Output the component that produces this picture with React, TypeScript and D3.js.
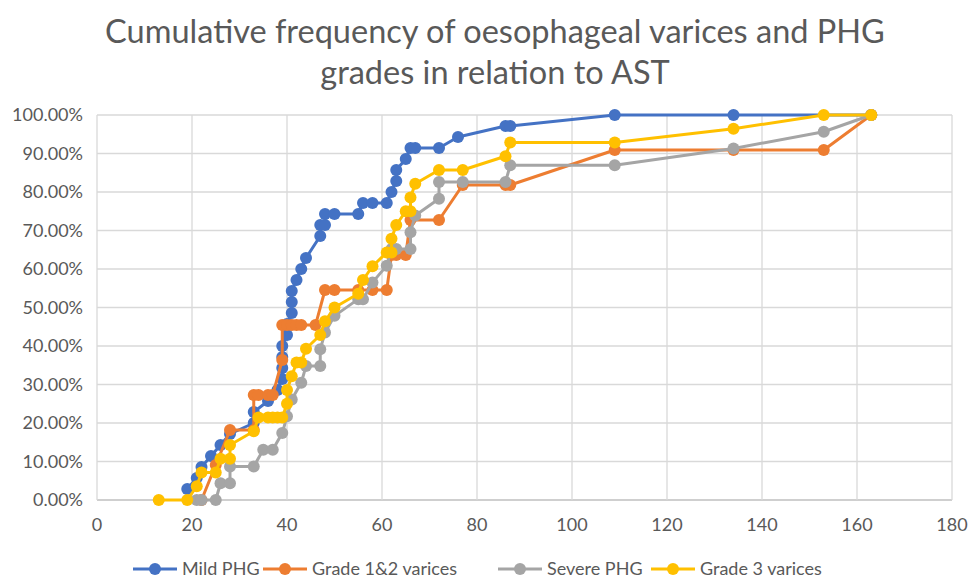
import * as d3 from "d3";

// AST values and cumulative percentages
const mildAst = [19, 21, 22, 24, 26, 28, 33, 33, 36, 38, 39, 39, 39, 39, 40, 40, 41, 41, 41, 42, 43, 44, 47, 47, 48, 48, 50, 55, 56, 58, 61, 62, 63, 63, 65, 66, 67, 72, 76, 86, 87, 109, 134, 163];
const mildPct = [2.86, 5.71, 8.57, 11.43, 14.29, 17.14, 20, 22.86, 25.71, 28.57, 31.43, 34.29, 37.14, 40, 42.86, 45.71, 48.57, 51.43, 54.29, 57.14, 60, 62.86, 68.57, 71.43, 71.43, 74.29, 74.29, 74.29, 77.14, 77.14, 77.14, 80, 82.86, 85.71, 88.57, 91.43, 91.43, 91.43, 94.29, 97.14, 97.14, 100, 100, 100];

const g12Ast = [22, 25, 28, 33, 33, 34, 36, 37, 39, 39, 40, 41, 42, 43, 46, 48, 50, 55, 58, 61, 62, 63, 65, 66, 72, 77, 86, 87, 109, 134, 153, 163];
const g12Pct = [0, 9.09, 18.18, 18.18, 27.27, 27.27, 27.27, 27.27, 36.36, 45.45, 45.45, 45.45, 45.45, 45.45, 45.45, 54.55, 54.55, 54.55, 54.55, 54.55, 63.64, 63.64, 63.64, 72.73, 72.73, 81.82, 81.82, 81.82, 90.91, 90.91, 90.91, 100];

const severeAst = [21, 22, 25, 26, 28, 28, 33, 35, 37, 39, 40, 41, 43, 44, 47, 47, 48, 50, 55, 56, 58, 61, 62, 63, 66, 66, 67, 72, 72, 77, 86, 87, 109, 134, 153, 163];
const severePct = [0, 0, 0, 4.35, 4.35, 8.7, 8.7, 13.04, 13.04, 17.39, 21.74, 26.09, 30.43, 34.78, 34.78, 39.13, 43.48, 47.83, 52.17, 52.17, 56.52, 60.87, 65.22, 65.22, 65.22, 69.57, 73.91, 78.26, 82.61, 82.61, 82.61, 86.96, 86.96, 91.3, 95.65, 100];

const g3Ast = [13, 19, 21, 22, 25, 26, 28, 28, 33, 34, 36, 37, 38, 39, 40, 40, 41, 42, 43, 44, 47, 48, 50, 55, 56, 58, 61, 62, 62, 63, 65, 66, 66, 67, 72, 77, 86, 87, 109, 134, 153, 163];
const g3Pct = [0, 0, 3.57, 7.14, 7.14, 10.71, 10.71, 14.29, 17.86, 21.43, 21.43, 21.43, 21.43, 21.43, 25, 28.57, 32.14, 35.71, 35.71, 39.29, 42.86, 46.43, 50, 53.57, 57.14, 60.71, 64.29, 64.29, 67.86, 71.43, 75, 75, 78.57, 82.14, 85.71, 85.71, 89.29, 92.86, 92.86, 96.43, 100, 100];

const seriesNames = ["Mild PHG", "Grade 1&2 varices", "Severe PHG", "Grade 3 varices"];
const seriesColors = ["#4472C4", "#ED7D31", "#A5A5A5", "#FFC000"];
const seriesAst = [mildAst, g12Ast, severeAst, g3Ast];
const seriesPct = [mildPct, g12Pct, severePct, g3Pct];

const xTicks = [0, 20, 40, 60, 80, 100, 120, 140, 160, 180];
const yTicks = [0, 10, 20, 30, 40, 50, 60, 70, 80, 90, 100];

const W = 969;
const H = 580;
const FONT = "Lato, 'Open Sans', sans-serif";
const TEXT = "#595959";

export default function App() {
  const x = d3.scaleLinear().domain([0, 180]).range([97, 952]);
  const y = d3.scaleLinear().domain([0, 100]).range([500, 115]);

  const series = seriesNames.map((name, i) => ({
    name,
    color: seriesColors[i],
    pts: seriesAst[i].map((a, j) => [a, seriesPct[i][j]] as [number, number]),
  }));

  const line = d3
    .line<[number, number]>()
    .x((d) => x(d[0]))
    .y((d) => y(d[1]));

  // legend slots: line start x for each entry
  const legendX = [133, 263, 498, 651];
  const legendY = 569;

  return (
    <svg
      width={W}
      height={H}
      style={{ position: "absolute", left: 0, top: 0, background: "#fff" }}
      fontFamily={FONT}
    >
      <rect width={W} height={H} fill="#fff" />
      <text x={495} y={43} textAnchor="middle" fontSize={32.5} fill={TEXT}>
        Cumulative frequency of oesophageal varices and PHG
      </text>
      <text x={495} y={84} textAnchor="middle" fontSize={32.5} fill={TEXT}>
        grades in relation to AST
      </text>

      {yTicks.map((t) => (
        <g key={"y" + t}>
          <line x1={97} x2={952} y1={y(t)} y2={y(t)} stroke={t === 0 ? "#BFBFBF" : "#D9D9D9"} strokeWidth={1.3} />
          <text x={83} y={y(t)} dy="0.35em" textAnchor="end" fontSize={18} fill={TEXT}>
            {t.toFixed(2) + "%"}
          </text>
        </g>
      ))}
      {xTicks.map((t) => (
        <g key={"x" + t}>
          <line x1={x(t)} x2={x(t)} y1={115} y2={500} stroke="#D9D9D9" strokeWidth={1.3} />
          <text x={x(t)} y={525} dy="0.35em" textAnchor="middle" fontSize={18} fill={TEXT}>
            {t}
          </text>
        </g>
      ))}

      {series.map((s) => (
        <g key={s.name}>
          <path d={line(s.pts) ?? ""} fill="none" stroke={s.color} strokeWidth={3} strokeLinejoin="round" />
          {s.pts.map((p, j) => (
            <circle key={j} cx={x(p[0])} cy={y(p[1])} r={6} fill={s.color} />
          ))}
        </g>
      ))}

      {series.map((s, i) => (
        <g key={"lg" + s.name} transform={`translate(${legendX[i]},${legendY})`}>
          <line x1={0} x2={44} y1={0} y2={0} stroke={s.color} strokeWidth={3} />
          <circle cx={22} cy={0} r={6} fill={s.color} />
          <text x={49} y={0} dy="0.35em" fontSize={18} fill={TEXT}>
            {s.name}
          </text>
        </g>
      ))}
    </svg>
  );
}
